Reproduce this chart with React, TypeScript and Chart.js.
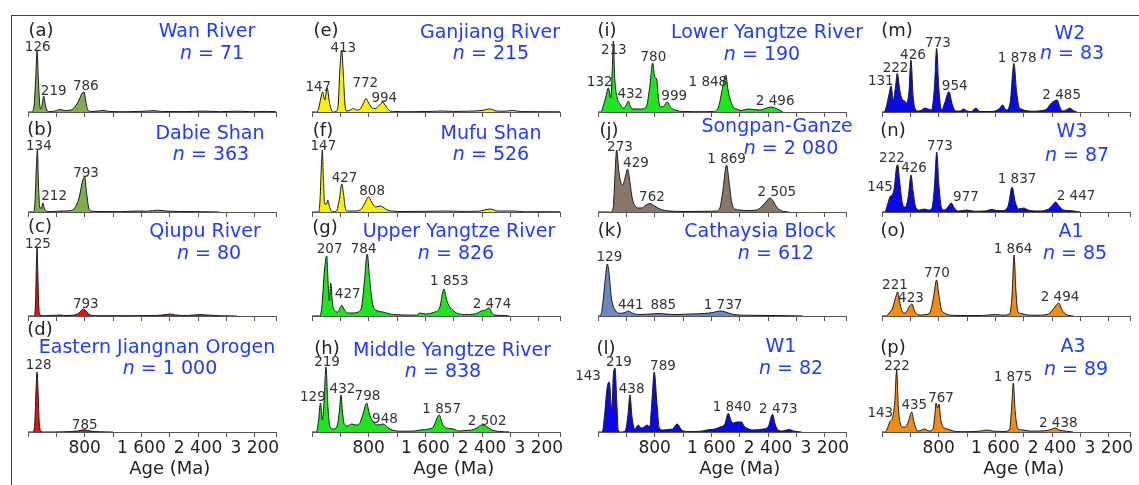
import React, { useEffect, useRef } from 'react';
import Chart from 'chart.js/auto';

// ---------- axis ----------
const ageTicks = [0, 400, 800, 1200, 1600, 2000, 2400, 2800, 3200, 3500];
const tickLabels = ['', '', '800', '', '1 600', '', '2 400', '', '3 200', ''];

// ---------- density curves: [age (Ma), relative density] ----------
const wanRiver = [[0,0],[50,0],[85,6],[110,35],[128,61],[145,35],[165,8],[185,3],[205,10],[222,16],[240,9],[265,2],[300,0.5],[380,1],[450,2.5],[520,1.5],[600,2],[660,5],[720,12],[765,19],[790,20],[815,11],[845,2],[900,0.5],[980,1],[1060,1.5],[1150,0.5],[1400,0.3],[1650,0.8],[1780,1.3],[1900,0.5],[2200,0.4],[2480,0.9],[2700,0.3],[2950,0.8],[3150,0.3],[3350,0.6],[3500,0.3]];
const dabieShan = [[0,0],[70,0],[95,6],[118,45],[133,62],[148,28],[168,4],[190,4],[210,9],[228,4],[255,1],[300,0.4],[420,0.8],[520,1],[600,1.5],[660,4],[720,14],[770,31],[800,35],[825,20],[855,5],[890,1],[1000,0.5],[1300,0.3],[1550,1],[1680,0.8],[1830,1.8],[1950,1],[2150,0.5],[2450,0.3],[2700,0]];
const qiupuRiver = [[0,0],[85,0],[105,10],[118,50],[128,69],[138,45],[152,10],[170,1],[250,0.3],[400,0.8],[450,1],[520,0.5],[640,0.8],[720,3],[780,7],[830,4],[880,1],[950,0.3],[1300,0.3],[1800,0.5],[1950,1.5],[2010,2],[2080,1],[2250,0.5],[2430,1.5],[2520,1],[2700,0.3],[2950,0]];
const eJiangnan = [[0,0],[70,0],[95,8],[115,45],[128,60],[142,40],[160,8],[185,1],[230,0],[500,0.2],[700,1],[790,2.2],[880,1],[1000,0.3],[1200,0]];
const ganjiang = [[0,0],[70,0],[95,4],[125,14],[150,20],[180,12],[215,24],[245,10],[275,2],[300,0],[340,0.5],[370,8],[395,45],[420,62],[440,40],[465,8],[490,1],[540,2],[585,3.5],[630,2],[680,3],[720,8],[761,13.5],[800,9],[850,4],[890,3.5],[940,6],[1000,9.7],[1040,6],[1090,1.5],[1150,0.5],[1400,0.3],[1700,0.6],[1850,1],[2000,0.5],[2200,0.8],[2400,1.5],[2510,3],[2600,1],[2720,0.8],[2830,1.5],[2950,0.4],[3200,0.3],[3500,0.2]];
const mufuShan = [[0,0],[90,0],[110,8],[132,45],[146,62],[160,35],[180,8],[205,8],[222,12],[245,6],[275,1],[300,0.2],[345,1],[385,12],[420,28],[445,18],[470,4],[500,1],[600,1],[680,2],[740,8],[800,15.3],[840,10],[900,5],[960,6],[1000,5],[1060,2],[1124,1],[1300,0.5],[1600,0.7],[1900,1],[2100,0.6],[2350,0.8],[2510,3],[2620,1],[2830,1],[3000,0.3],[3300,0.3],[3500,0.2]];
const upperYangtze = [[0,0],[110,0],[140,10],[175,45],[207,60],[230,30],[245,15],[264,33],[290,12],[330,5],[360,4],[395,8],[420,10.7],[450,7],[500,3],[580,3],[650,4],[700,9],[740,35],[780,62],[810,40],[850,14],[900,6],[1000,4],[1100,2],[1300,1],[1476,0.8],[1523,3],[1600,2],[1710,3.5],[1800,8],[1862,27],[1900,16],[1946,9],[2000,5],[2040,3],[2150,1.5],[2300,2],[2390,5],[2450,6],[2500,8],[2540,3],[2580,1],[2700,0.5],[2790,0]];
const middleYangtze = [[0,0],[60,0],[90,10],[120,29],[145,12],[170,30],[197,65],[225,25],[254,5],[300,3],[350,5],[385,20],[409,37],[430,20],[460,7],[500,6],[560,8],[620,7],[667,8],[720,18],[771,29],[810,18],[865,10],[930,7],[1006,8],[1060,5],[1100,3],[1193,1],[1300,0.8],[1450,1],[1523,2],[1650,3],[1711,5],[1796,17],[1840,8],[1900,4],[2000,3],[2070,1],[2150,1.5],[2250,2],[2330,4],[2393,7],[2450,6],[2540,2],[2650,0.5],[2790,0]];
const lowerYangtze = [[0,0],[40,0],[70,5],[110,15],[146,24],[180,14],[205,50],[216,71],[235,35],[272,14],[310,8],[357,4],[400,7],[428,11],[460,5],[500,3],[600,3],[680,5],[730,25],[771,49],[800,35],[828,33],[855,12],[884,5],[930,6],[977,10],[1020,5],[1086,2],[1204,0.5],[1500,0.3],[1626,0.5],[1700,5],[1760,25],[1801,37],[1840,20],[1872,11],[1920,4],[1956,3],[2020,1.5],[2120,3],[2200,2.5],[2290,2],[2380,4],[2450,5],[2530,3],[2610,0]];
const songpanGanze = [[0,0],[180,0],[216,5],[235,30],[263,62],[295,40],[320,30],[348,27],[385,35],[419,43],[450,30],[480,15],[522,6],[575,4],[616,4],[680,7],[733,8.4],[800,6],[874,3],[950,1.5],[1015,1],[1200,0.5],[1500,0.7],[1674,1],[1720,4],[1760,20],[1815,47],[1850,30],[1886,10],[1932,3],[2000,2],[2100,1.5],[2237,2],[2320,6],[2380,11],[2426,14],[2480,10],[2520,5],[2567,2],[2620,0.5],[2700,0]];
const cathaysia = [[0,0],[30,0],[60,8],[100,35],[132,52],[160,40],[185,20],[207,11.7],[250,5],[310,2.7],[380,3.5],[428,5],[480,3],[569,1.5],[700,1.8],[800,2.3],[874,2.5],[950,2],[1100,1.5],[1300,2],[1500,2.5],[1620,3.5],[1720,5],[1800,4],[1909,1.5],[2100,0.8],[2400,0.5],[2700,0.3],[2890,0]];
const w1 = [[0,0],[60,0],[90,15],[130,45],[160,50],[195,22],[215,55],[240,64],[265,30],[286,2],[320,0],[380,0.5],[420,15],[451,37],[480,15],[520,3],[569,7],[610,4],[650,5],[695,7],[730,5],[760,30],[794,60],[830,30],[865,4],[921,2],[980,2.5],[1050,3],[1118,8],[1170,3],[1204,1],[1300,0.5],[1450,0.8],[1533,2],[1650,3],[1720,5],[1790,8],[1838,18.7],[1880,11],[1909,9],[1956,10],[2027,10],[2060,6],[2097,4],[2190,2],[2331,3],[2400,5],[2464,17.7],[2500,8],[2540,2],[2600,1],[2660,2],[2700,2.5],[2760,1],[2870,0]];
const w2 = [[0,0],[30,0],[60,5],[100,18],[127,26],[160,12],[190,25],[216,38.7],[250,22],[278,13.7],[320,11],[348,9],[380,20],[409,52],[440,15],[470,3],[513,1],[560,2],[606,4],[650,3],[700,2],[740,25],[771,63.7],[800,25],[842,2],[880,8],[945,20.3],[990,8],[1040,1],[1100,1],[1148,3],[1200,1],[1260,0.5],[1326,4],[1380,0.5],[1550,0.5],[1650,3],[1703,7],[1750,2],[1810,10],[1862,48.7],[1900,20],[1940,4],[1970,3],[2020,1.5],[2150,0.8],[2260,1.5],[2323,3],[2393,9],[2472,12],[2510,5],[2547,1],[2600,2],[2650,4],[2700,1.5],[2750,0]];
const w3 = [[0,0],[40,0],[80,8],[120,16],[145,17],[175,25],[205,45],[222,47],[250,30],[290,8],[330,5],[370,15],[410,37],[440,20],[480,4],[530,2],[600,3],[650,2],[700,3],[740,25],[773,60],[800,30],[840,4],[880,2],[930,5],[977,9],[1020,4],[1080,1],[1200,2],[1300,0.8],[1450,1],[1550,2.5],[1620,1.5],[1700,1.5],[1780,6],[1837,25],[1880,10],[1930,3],[2000,4],[2060,2],[2200,1],[2350,3],[2420,8],[2447,10],[2500,6],[2560,2],[2640,1.5],[2750,0.5],[2800,0]];
const a1 = [[0,0],[60,0],[100,3],[150,8],[190,18],[221,24],[250,14],[290,4],[330,3],[380,9],[423,12],[460,5],[500,1.5],[560,1],[620,1.5],[680,4],[730,20],[770,36],[800,22],[840,6],[880,3],[950,1],[1100,0.5],[1400,0.5],[1600,1.5],[1700,0.8],[1800,2],[1835,20],[1864,61],[1890,25],[1920,4],[1970,2.5],[2050,1],[2200,0.8],[2350,2],[2440,9],[2494,13],[2540,6],[2600,1.5],[2700,0]];
const a3 = [[0,0],[40,0],[66,2],[110,10],[152,15],[180,30],[207,62],[230,25],[260,8],[300,5],[324,5],[370,10],[419,20],[450,10],[490,2],[513,1],[560,2],[606,3],[660,1],[720,3],[750,20],[762,29],[783,24],[804,28],[830,12],[865,5],[920,3],[959,2],[1050,0.5],[1200,0.3],[1400,1],[1477,2],[1560,1],[1700,0.5],[1800,2],[1830,25],[1853,49],[1880,20],[1920,3],[1993,2],[2100,0.8],[2228,1],[2330,1.5],[2400,3],[2440,4],[2500,2],[2600,0.8],[2700,0]];

// ---------- peak labels (ages) and their anchors [age, density] ----------
const wanPeaks = [126, 219, 786];
const wanPeakAt = [[137,61],[363,17],[816,22]];
const dabiePeaks = [134, 212, 793];
const dabiePeakAt = [[153,62],[369,12],[819,35]];
const qiupuPeaks = [125, 793];
const qiupuPeakAt = [[141,68],[816,8]];
const ejPeaks = [128, 785];
const ejPeakAt = [[151,63],[800,3]];
const ganPeaks = [147, 413, 772, 994];
const ganPeakAt = [[89,21],[442,60],[752,25],[1020,10]];
const mufuPeaks = [147, 427, 808];
const mufuPeakAt = [[160,62],[459,30],[849,17]];
const upperPeaks = [207, 784, 427, 1853, 2474];
const upperPeakAt = [[249,63],[729,63],[504,18],[1938,31],[2540,8]];
const middlePeaks = [129, 219, 432, 798, 948, 1857, 2502];
const middlePeakAt = [[12,31],[212,66],[430,39],[783,32],[1030,9],[1830,19],[2472,7]];
const lowerPeaks = [132, 213, 432, 780, 999, 1848, 2496];
const lowerPeakAt = [[24,26],[223,58],[456,14],[781,51],[1075,12],[1550,26],[2500,7]];
const songPeaks = [273, 429, 762, 1869, 2505];
const songPeakAt = [[310,61],[536,45],[762,11],[1815,49],[2524,16]];
const cathPeaks = [129, 441, 885, 1737];
const cathPeakAt = [[160,55],[463,7],[922,7],[1764,7]];
const w1Peaks = [143, 219, 438, 789, 1840, 2473];
const w1PeakAt = [[-141,52],[296,66],[475,39],[917,62],[1891,21],[2545,19]];
const w2Peaks = [131, 222, 426, 773, 954, 1878, 2485];
const w2PeakAt = [[-17,27],[191,40],[437,53],[790,65],[1026,22],[1908,50],[2536,13]];
const w3Peaks = [145, 222, 426, 773, 977, 1837, 2447];
const w3PeakAt = [[-28,21],[141,50],[452,40],[818,62],[1185,11],[1905,29],[2738,12]];
const a1Peaks = [221, 423, 770, 1864, 2494];
const a1PeakAt = [[183,27],[409,14],[776,39],[1849,63],[2512,15]];
const a3Peaks = [143, 222, 435, 767, 1875, 2438];
const a3PeakAt = [[-24,15],[212,62],[456,23],[833,30],[1849,51],[2488,5]];

// ---------- panel titles ----------
const letters = ['a','b','c','d','e','f','g','h','i','j','k','l','m','n','o','p'];
const names = ['Wan River','Dabie Shan','Qiupu River','Eastern Jiangnan Orogen','Ganjiang River','Mufu Shan','Upper Yangtze River','Middle Yangtze River','Lower Yangtze River','Songpan-Ganze','Cathaysia Block','W1','W2','W3','A1','A3'];
const counts = ['71','363','80','1 000','215','526','826','838','190','2 080','612','82','83','87','85','89'];

// ---------- styling / layout ----------
const OLIVE = '#7fae4c', RED = '#ee1010', YELLOW = '#f7f200', GREEN = '#1ee61e', BROWN = '#8b766a', SLATE = '#6d88c3', BLUE = '#0a0ae8', ORANGE = '#f28c12';
const curves = [wanRiver, dabieShan, qiupuRiver, eJiangnan, ganjiang, mufuShan, upperYangtze, middleYangtze, lowerYangtze, songpanGanze, cathaysia, w1, w2, w3, a1, a3];
const peakLists = [wanPeaks, dabiePeaks, qiupuPeaks, ejPeaks, ganPeaks, mufuPeaks, upperPeaks, middlePeaks, lowerPeaks, songPeaks, cathPeaks, w1Peaks, w2Peaks, w3Peaks, a1Peaks, a3Peaks];
const peakAnchors = [wanPeakAt, dabiePeakAt, qiupuPeakAt, ejPeakAt, ganPeakAt, mufuPeakAt, upperPeakAt, middlePeakAt, lowerPeakAt, songPeakAt, cathPeakAt, w1PeakAt, w2PeakAt, w3PeakAt, a1PeakAt, a3PeakAt];
const fills = [OLIVE, OLIVE, RED, RED, YELLOW, YELLOW, GREEN, GREEN, GREEN, BROWN, SLATE, BLUE, BLUE, BLUE, ORANGE, ORANGE];

const COL_X = [28, 312, 598, 882];
const PLOT_W = 248;
const ROW_TOP = [17, 118, 218, 322];
const ROW_BASE = [112, 212, 316, 432];
const PAD_L = 34, PAD_R = 22;
const TITLE_POS = [[207,30,212,52],[210,132,211,153],[205,230,209,252],[157,346,170,367],[490,31,491,52],[491,132,491,153],[459,230,456,252],[452,349,443,370],[767,31,762,53],[777,125,791,147],[760,230,776,252],[781,345,791,367],[1070,32,1072,52],[1072,130,1077,154],[1071,230,1075,252],[1073,345,1076,368]];
const LETTER_POS = [[41,30],[40,129],[40,226],[40,329],[326,30],[323,130],[325,227],[327,348],[607,30],[609,130],[610,230],[606,348],[897,30],[893,130],[893,230],[893,347]];
const FONT = "'DejaVu Sans', sans-serif";

const fmt = (v: number) => (v >= 1000 ? `${Math.floor(v / 1000)} ${String(v % 1000).padStart(3, '0')}` : String(v));

export default function App() {
  const refs = useRef<(HTMLCanvasElement | null)[]>([]);

  useEffect(() => {
    const charts: Chart[] = [];
    for (let i = 0; i < 16; i++) {
      const canvas = refs.current[i];
      if (!canvas) continue;
      const row = i % 4;
      const bottom = row === 3;
      const axisH = bottom ? 52 : 6;
      const rowH = ROW_BASE[row] - ROW_TOP[row];
      const peaks = peakLists[i], anchors = peakAnchors[i];
      const labelPlugin = {
        id: 'peakLabels' + i,
        afterDraw(chart: any) {
          const { ctx, scales } = chart;
          const xs = scales.x, ys = scales.y;
          ctx.save();
          ctx.font = `13.5px ${FONT}`;
          ctx.fillStyle = '#333';
          ctx.textAlign = 'center';
          ctx.textBaseline = 'alphabetic';
          peaks.forEach((p: number, k: number) => {
            const [ax, ay] = anchors[k];
            ctx.fillText(fmt(p), xs.getPixelForValue(ax), ys.getPixelForValue(ay));
          });
          if (bottom) {
            ctx.font = `18px ${FONT}`;
            ctx.fillStyle = '#222';
            ctx.textBaseline = 'middle';
            ctx.fillText('Age (Ma)', xs.getPixelForValue(2000), chart.chartArea.bottom + 37);
          }
          ctx.restore();
        },
      };
      const chart = new Chart(canvas, {
        type: 'line',
        data: {
          datasets: [{
            data: curves[i].map(([x, y]) => ({ x, y })),
            fill: 'origin',
            backgroundColor: fills[i],
            borderColor: '#1a1a1a',
            borderWidth: 1,
            pointRadius: 0,
            cubicInterpolationMode: 'monotone',
          }],
        },
        options: {
          animation: false,
          responsive: false,
          maintainAspectRatio: false,
          events: [],
          layout: { padding: { left: PAD_L, right: PAD_R, top: 0, bottom: 0 } },
          plugins: { legend: { display: false }, tooltip: { enabled: false } },
          scales: {
            x: {
              type: 'linear',
              min: 0,
              max: 3500,
              afterBuildTicks: (s: any) => { s.ticks = ageTicks.map((v) => ({ value: v })); },
              afterFit: (s: any) => { s.height = axisH; },
              grid: { display: true, drawOnChartArea: false, drawTicks: true, tickLength: 5, color: '#555', lineWidth: 1 },
              border: { display: true, color: '#555', width: 1 },
              ticks: {
                display: bottom,
                autoSkip: false,
                maxRotation: 0,
                minRotation: 0,
                padding: 1,
                color: '#222',
                font: { family: FONT, size: 17 },
                callback: (_v: any, idx: number) => tickLabels[idx],
              },
            },
            y: { display: false, min: 0, max: rowH },
          },
        },
        plugins: [labelPlugin],
      } as any);
      charts.push(chart);
    }
    return () => charts.forEach((c) => c.destroy());
  }, []);

  return (
    <div style={{ position: 'absolute', left: 0, top: 0, width: 1139, height: 485, background: '#fff', overflow: 'hidden', fontFamily: FONT }}>
      <div style={{ position: 'absolute', left: 11, top: 15, width: 1200, height: 500, borderLeft: '1px solid #444', borderTop: '1px solid #444' }} />
      {curves.map((_, i) => {
        const col = Math.floor(i / 4), row = i % 4;
        const axisH = row === 3 ? 52 : 6;
        const w = PLOT_W + PAD_L + PAD_R;
        const h = ROW_BASE[row] - ROW_TOP[row] + axisH;
        return (
          <canvas
            key={'c' + i}
            ref={(el) => { refs.current[i] = el; }}
            width={w}
            height={h}
            style={{ position: 'absolute', left: COL_X[col] - PAD_L, top: ROW_TOP[row], width: w, height: h }}
          />
        );
      })}
      {letters.map((l, i) => (
        <div key={'l' + i} style={{ position: 'absolute', left: LETTER_POS[i][0], top: LETTER_POS[i][1], transform: 'translate(-50%,-50%)', fontSize: 18, lineHeight: 1, color: '#222', whiteSpace: 'nowrap' }}>
          ({l})
        </div>
      ))}
      {names.map((nm, i) => (
        <React.Fragment key={'t' + i}>
          <div style={{ position: 'absolute', left: TITLE_POS[i][0], top: TITLE_POS[i][1], transform: 'translate(-50%,-50%)', fontSize: 19, lineHeight: 1, color: '#1d3cff', whiteSpace: 'nowrap' }}>{nm}</div>
          <div style={{ position: 'absolute', left: TITLE_POS[i][2], top: TITLE_POS[i][3], transform: 'translate(-50%,-50%)', fontSize: 19, lineHeight: 1, color: '#1d3cff', whiteSpace: 'nowrap' }}>
            <i>n</i> = {counts[i]}
          </div>
        </React.Fragment>
      ))}
    </div>
  );
}
